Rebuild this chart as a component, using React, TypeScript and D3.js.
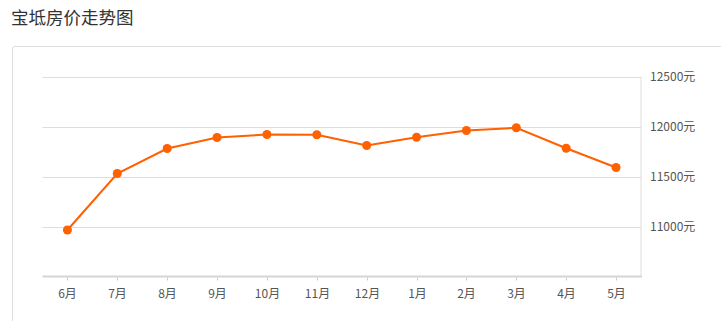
import React from "react";
import * as d3 from "d3";

const title = "宝坻房价走势图";
const months = ["6月", "7月", "8月", "9月", "10月", "11月", "12月", "1月", "2月", "3月", "4月", "5月"];
const prices = [10965, 11530, 11780, 11890, 11920, 11917, 11810, 11893, 11960, 11987, 11783, 11590];
const yTicks = [11000, 11500, 12000, 12500];

export default function App() {
  const W = 721, H = 321;
  const left = 42.5, right = 641, top = 76.5, bottom = 276.5;
  const x = d3.scaleBand<string>().domain(months).range([left, right]);
  const y = d3.scaleLinear().domain([10500, 12500]).range([bottom, top]);
  const line = d3.line<number>()
    .x((_, i) => (x(months[i]) as number) + x.bandwidth() / 2)
    .y((d) => y(d));
  const font = "'Microsoft YaHei', 'Noto Sans CJK SC', sans-serif";
  return (
    <svg width={W} height={H} style={{ position: "fixed", left: 0, top: 0, background: "#fff" }}>
      <text x={11} y={24} fontSize={17.5} fill="#333" fontFamily={font}>{title}</text>
      <path d={`M12.5,${H + 10} V49 Q12.5,46.5 15,46.5 H${W + 10}`} fill="none" stroke="#ddd" strokeWidth={1} />
      {yTicks.map((t) => (
        <g key={t}>
          <line x1={left} x2={right} y1={Math.round(y(t)) + 0.5} y2={Math.round(y(t)) + 0.5} stroke="#ddd" />
          <text x={650} y={y(t)} dy="0.35em" fontSize={12} fill="#555" fontFamily={font}>{t}元</text>
        </g>
      ))}
      <line x1={right} x2={right} y1={top} y2={bottom} stroke="#ddd" />
      <line x1={left} x2={right + 1} y1={bottom} y2={bottom} stroke="#d4d4d4" strokeWidth={2} />
      {months.map((m) => {
        const cx = Math.round((x(m) as number) + x.bandwidth() / 2) + 0.5;
        return (
          <g key={m}>
            <line x1={cx} x2={cx} y1={bottom + 1} y2={bottom + 4} stroke="#ccc" />
            <text x={cx} y={297.5} textAnchor="middle" fontSize={12} fill="#555" fontFamily={font}>{m}</text>
          </g>
        );
      })}
      <path d={line(prices) || ""} fill="none" stroke="#ff6000" strokeWidth={2} />
      {prices.map((p, i) => (
        <circle key={i} cx={(x(months[i]) as number) + x.bandwidth() / 2} cy={y(p)} r={4.5} fill="#ff6000" />
      ))}
    </svg>
  );
}
